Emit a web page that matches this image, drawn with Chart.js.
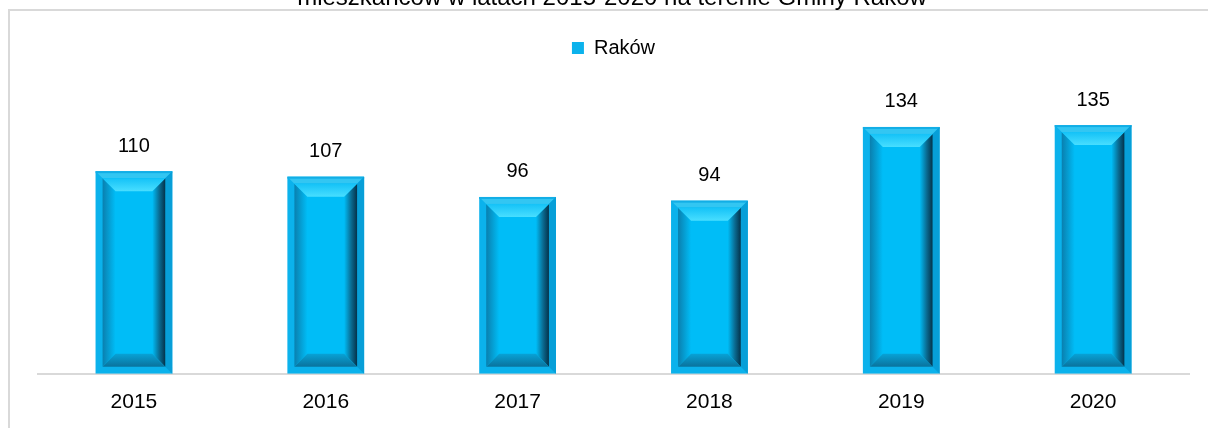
<!DOCTYPE html>
<html>
<head>
<meta charset="utf-8">
<script src="https://cdn.jsdelivr.net/npm/chart.js@4"></script>
<style>
  html, body { margin: 0; padding: 0; background: #fff; }
  #wrap { width: 1208px; height: 428px; position: relative; }
</style>
</head>
<body>
<div id="wrap"><canvas id="chart" width="1208" height="428"></canvas></div>
<script>
// Data
const years = ['2015', '2016', '2017', '2018', '2019', '2020'];
const values = [110, 107, 96, 94, 134, 135];
const seriesName = 'Raków';
const titleText = 'mieszkańców w latach 2015-2020 na terenie Gminy Raków';

const FONT = "'Liberation Sans', Arial, sans-serif";

// frame + clipped title
const backdrop = {
    id: 'backdrop',
    beforeDraw(chart) {
        const c = chart.ctx;
        c.save();
        c.strokeStyle = '#d9d9d9';
        c.lineWidth = 2;
        c.strokeRect(9, 10, 1400, 600);
        c.fillStyle = '#000';
        c.font = '24px ' + FONT;
        c.textAlign = 'center';
        c.textBaseline = 'alphabetic';
        c.fillText(titleText, 612, 5);
        c.restore();
    }
};

// bevel look on each bar + value labels
const bevel = {
    id: 'bevel',
    afterDatasetsDraw(chart) {
        const c = chart.ctx;
        const meta = chart.getDatasetMeta(0);
        meta.data.forEach((bar, i) => {
            const l = bar.x - bar.width / 2, r = bar.x + bar.width / 2;
            const t = bar.y, b = bar.base;
            const f = 7;
            c.save();
            // outer frame top light strip
            c.fillStyle = '#33c6f2';
            c.beginPath();
            c.moveTo(l, t); c.lineTo(r, t); c.lineTo(r - f, t + f); c.lineTo(l + f, t + f);
            c.closePath(); c.fill();
            c.fillStyle = '#12aee6';
            c.fillRect(l, t, r - l, 2);
            // outer right edge slightly darker
            c.fillStyle = '#079fd8';
            c.beginPath();
            c.moveTo(r, t); c.lineTo(r, b); c.lineTo(r - f, b - f); c.lineTo(r - f, t + f);
            c.closePath(); c.fill();
            // inner panel
            const il = l + f, ir = r - f, it = t + f, ib = b - f;
            c.fillStyle = '#00bdf7';
            c.fillRect(il, it, ir - il, ib - it);
            const bv = 13;
            // left bevel
            let g = c.createLinearGradient(il, 0, il + bv, 0);
            g.addColorStop(0, '#0a7fae');
            g.addColorStop(1, '#00bdf7');
            c.fillStyle = g;
            c.beginPath();
            c.moveTo(il, it); c.lineTo(il + bv, it + bv); c.lineTo(il + bv, ib - bv); c.lineTo(il, ib);
            c.closePath(); c.fill();
            // right bevel
            g = c.createLinearGradient(ir - bv, 0, ir, 0);
            g.addColorStop(0, '#00bdf7');
            g.addColorStop(0.55, '#0a6a90');
            g.addColorStop(1, '#04324a');
            c.fillStyle = g;
            c.beginPath();
            c.moveTo(ir, it); c.lineTo(ir - bv, it + bv); c.lineTo(ir - bv, ib - bv); c.lineTo(ir, ib);
            c.closePath(); c.fill();
            // top bevel
            g = c.createLinearGradient(0, it, 0, it + bv);
            g.addColorStop(0, '#14c2f7');
            g.addColorStop(1, '#48deff');
            c.fillStyle = g;
            c.beginPath();
            c.moveTo(il, it); c.lineTo(ir, it); c.lineTo(ir - bv, it + bv); c.lineTo(il + bv, it + bv);
            c.closePath(); c.fill();
            // bottom bevel
            g = c.createLinearGradient(0, ib - bv, 0, ib);
            g.addColorStop(0, '#08a2d6');
            g.addColorStop(1, '#0a729c');
            c.fillStyle = g;
            c.beginPath();
            c.moveTo(il, ib); c.lineTo(ir, ib); c.lineTo(ir - bv, ib - bv); c.lineTo(il + bv, ib - bv);
            c.closePath(); c.fill();
            // value label
            c.fillStyle = '#000';
            c.font = '20px ' + FONT;
            c.textAlign = 'center';
            c.textBaseline = 'middle';
            c.fillText(String(values[i]), bar.x, t - 25);
            c.restore();
        });
    }
};

new Chart(document.getElementById('chart'), {
    type: 'bar',
    data: {
        labels: years,
        datasets: [{
            label: seriesName,
            data: values,
            backgroundColor: '#0bb2ec',
            borderWidth: 0,
            categoryPercentage: 1,
            barPercentage: 0.4
        }]
    },
    options: {
        responsive: false,
        animation: false,
        layout: { padding: { left: 38, right: 19, top: 30, bottom: -3 } },
        plugins: {
            title: { display: false },
            tooltip: { enabled: false },
            legend: {
                display: true,
                position: 'top',
                labels: {
                    color: '#000',
                    font: { family: FONT, size: 20 },
                    boxWidth: 12,
                    boxHeight: 12,
                    padding: 8
                }
            }
        },
        scales: {
            y: {
                display: false,
                min: 0,
                max: 166
            },
            x: {
                grid: { display: false, drawTicks: false },
                border: { display: true, color: '#d9d9d9', width: 2 },
                ticks: {
                    color: '#000',
                    padding: 16,
                    font: { family: FONT, size: 21 }
                }
            }
        }
    },
    plugins: [backdrop, bevel]
});
</script>
</body>
</html>
